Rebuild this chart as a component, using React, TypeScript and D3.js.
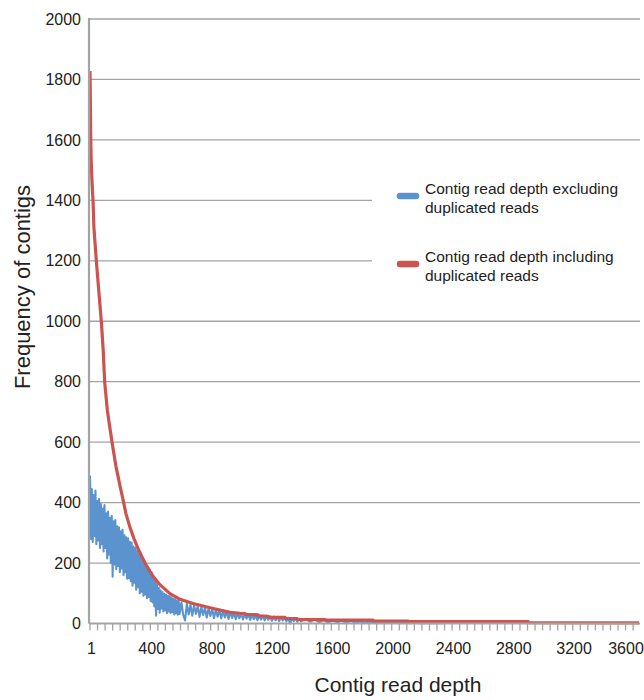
import React from 'react';
import * as d3 from 'd3';

// x axis: contig read depth, y axis: number of contigs
const depthTicks = [1, 400, 800, 1200, 1600, 2000, 2400, 2800, 3200, 3600];
const freqTicks = [0, 200, 400, 600, 800, 1000, 1200, 1400, 1600, 1800, 2000];
const seriesNames = [
  ['Contig read depth excluding', 'duplicated reads'],
  ['Contig read depth including', 'duplicated reads'],
];

// excluding duplicated reads (blue) - noisy band
const excludingHead: [number, number][] = [
  [1, 490], [7, 280], [13, 445], [19, 270], [25, 425], [31, 290], [37, 440], [43, 262], [49, 405], [55, 275],
  [61, 412], [67, 250], [73, 395], [79, 262], [85, 380], [91, 238], [97, 392], [103, 250], [109, 365], [115, 215],
  [121, 370], [127, 228], [133, 350], [139, 200], [145, 356], [151, 155], [157, 338], [163, 195], [169, 342], [175, 180],
  [181, 322], [187, 190], [193, 318], [199, 170], [205, 305], [211, 182], [217, 310], [223, 160], [229, 292], [235, 170],
  [241, 285], [247, 148], [253, 282], [259, 150], [265, 270], [271, 140], [277, 268], [283, 125], [289, 255], [295, 135],
  [301, 250], [307, 112], [313, 240], [319, 120], [325, 230], [331, 100], [337, 226], [343, 105], [349, 210], [355, 92],
  [361, 205], [367, 96], [373, 192], [379, 84], [385, 186], [391, 88], [397, 178], [403, 75], [409, 170], [415, 70],
  [421, 155], [427, 56], [433, 145], [439, 26], [445, 130], [451, 48], [457, 118], [463, 36], [469, 110], [475, 50],
  [481, 104], [487, 40], [493, 98], [499, 44], [505, 96], [511, 34], [517, 92], [523, 40], [529, 90], [535, 35],
  [541, 86], [547, 38], [553, 82], [559, 30], [565, 80], [571, 34], [577, 76], [583, 29], [589, 74], [595, 32],
];
const excludingMid: [number, number][] = [
  [607, 70], [619, 28], [631, 10], [643, 66], [655, 30], [667, 62], [679, 26], [691, 60], [703, 32], [715, 57],
  [727, 22], [739, 55], [751, 28], [763, 52], [775, 20], [787, 50], [799, 25], [811, 48], [823, 18], [835, 46],
  [847, 22], [859, 45], [871, 17], [883, 42], [895, 20], [907, 40], [919, 15], [931, 38], [943, 18], [955, 37],
  [967, 14], [979, 35], [991, 17], [1003, 34], [1015, 13], [1027, 32], [1039, 16], [1051, 31], [1063, 12], [1075, 30],
  [1087, 14], [1099, 28], [1111, 11], [1123, 27], [1135, 13], [1147, 26], [1159, 10], [1171, 25], [1183, 12], [1195, 24],
  [1207, 9], [1219, 23], [1231, 11], [1243, 22], [1255, 8], [1267, 21], [1279, 10], [1291, 20], [1303, 7], [1315, 19],
  [1327, 0], [1339, 18], [1351, 8], [1363, 17], [1375, 6], [1387, 16], [1399, 7],
];
const excludingTail: [number, number][] = [
  [1430, 14], [1460, 6], [1490, 13], [1520, 5], [1550, 11], [1580, 4], [1610, 10], [1640, 4], [1670, 9], [1700, 3],
  [1730, 8], [1760, 3], [1790, 7], [1820, 3], [1850, 6], [1880, 2], [1910, 6], [1940, 2], [1970, 5], [2000, 2],
  [2030, 4], [2060, 1], [2090, 4], [2120, 1], [2150, 3], [2180, 1], [2210, 2], [2240, 1], [2270, 2], [2300, 1], [2340, 1],
];

// including duplicated reads (red)
const includingDup: [number, number][] = [
  [1, 1828], [2, 1790], [4, 1700], [6, 1600], [9, 1530], [14, 1465], [21, 1400], [27, 1310], [43, 1200], [61, 1090],
  [76, 1000], [89, 900], [98, 800], [116, 705], [147, 600], [160, 560], [173, 520], [187, 487], [200, 455], [220, 410],
  [240, 362], [266, 318], [293, 280], [319, 248], [346, 220], [366, 200], [399, 172], [425, 152], [465, 128], [531, 99],
  [598, 80], [684, 66], [797, 52], [929, 37], [996, 34], [1029, 33], [1032, 30], [1115, 29], [1118, 25], [1181, 24],
  [1184, 21], [1294, 20], [1297, 17], [1374, 16], [1377, 14], [1560, 13], [1563, 11], [1877, 11], [1880, 8], [2110, 8],
  [2113, 6], [2906, 6], [2909, 3], [3640, 2],
];

const colors = ['#5b93cf', '#cb5450'];

const App = () => {
  const width = 644;
  const height = 700;
  const left = 89, right = 640, top = 19, bottom = 623.5;

  const x = d3.scaleLinear().domain([1, 3640]).range([90, 639]);
  const y = d3.scaleLinear().domain([0, 2000]).range([bottom, top]);

  const line = d3.line<[number, number]>()
    .x(d => x(d[0]))
    .y(d => y(d[1]));

  const blue = [...excludingHead, ...excludingMid, ...excludingTail];
  const minorTicks = d3.range(1, 3641, 50);
  const font = '"Liberation Sans", Arial, sans-serif';

  return (
    <svg width={width} height={height} style={{ position: 'absolute', left: 0, top: 0, background: '#fff' }}
      fontFamily={font}>
      {/* gridlines */}
      {freqTicks.filter(t => t > 0).map(t => (
        <line key={t} x1={left} x2={right} y1={y(t)} y2={y(t)} stroke="#a3a3a3" strokeWidth={1.3} />
      ))}
      {/* y tick labels */}
      {freqTicks.map(t => (
        <text key={t} x={81} y={y(t)} dy="0.35em" textAnchor="end" fontSize={16} fill="#222">{t}</text>
      ))}

      {/* series */}
      <path d={line(blue) || ''} fill="none" stroke={colors[0]} strokeWidth={2.1} strokeLinejoin="round" />
      <path d={line(includingDup) || ''} fill="none" stroke={colors[1]} strokeWidth={3.2} strokeLinejoin="round" />

      {/* axes */}
      <line x1={left} x2={left} y1={top - 1} y2={bottom} stroke="#a3a3a3" strokeWidth={2.2} />
      <line x1={left} x2={right} y1={bottom} y2={bottom} stroke="#a3a3a3" strokeWidth={2} />
      {minorTicks.map(t => (
        <line key={t} x1={x(t)} x2={x(t)} y1={bottom} y2={bottom + 7} stroke="#a3a3a3" strokeWidth={1.3} />
      ))}
      {depthTicks.map(t => (
        <text key={t} x={Math.min(x(t) + 1.5, 626)} y={654} textAnchor="middle" fontSize={16} fill="#222">{t}</text>
      ))}

      {/* legend */}
      <rect x={372} y={165} width={268} height={128} fill="#fff" />
      {seriesNames.map((lines, i) => (
        <g key={i} transform={`translate(0, ${i * 68})`}>
          <line x1={400} x2={416} y1={196} y2={196} stroke={colors[i]} strokeWidth={6.5} strokeLinecap="round" />
          {lines.map((s, j) => (
            <text key={j} x={425} y={194 + j * 19} fontSize={15.5} fill="#222">{s}</text>
          ))}
        </g>
      ))}

      {/* axis titles */}
      <text x={398} y={692} textAnchor="middle" fontSize={21} fill="#222">Contig read depth</text>
      <text transform="translate(30, 287) rotate(-90)" textAnchor="middle" fontSize={22} fill="#222">
        Frequency of contigs
      </text>
    </svg>
  );
};

export default App;
